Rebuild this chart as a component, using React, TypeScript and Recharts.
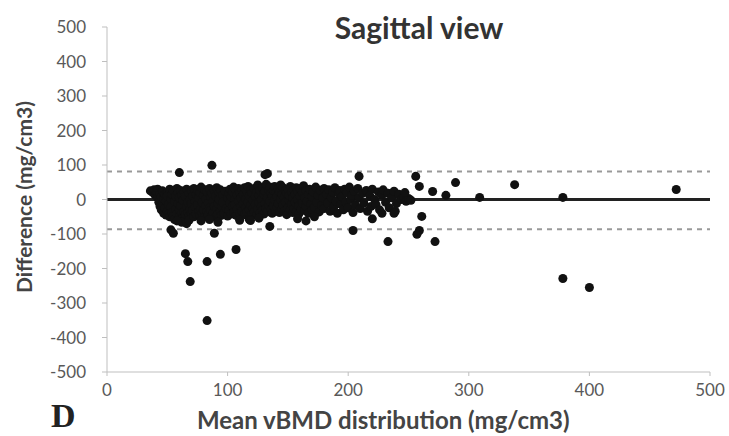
import React from 'react';
import {
  ScatterChart, Scatter, XAxis, YAxis, ZAxis, ReferenceLine
} from 'recharts';

// Bland-Altman data: [mean vBMD, difference]
const cloudLeft: [number, number][] = [
  [36, 25], [38, 20], [39, 28], [40, 12], [41, 22], [42, 5], [42, 30], [43, -8], [44, 18], [44, -20],
  [45, 8], [45, -30], [46, 25], [46, -12], [47, -40], [47, 2], [48, 15], [48, -25], [49, -45], [49, -5],
  [50, 20], [50, -35], [50, 10], [51, -15], [51, -42],
  [52, 30], [52, -50], [53, 0], [53, -22], [54, 15], [54, -38], [55, -48], [55, 25], [56, -5], [56, -58],
  [57, 10], [57, -28], [58, 32], [58, -42], [59, -12], [59, 20], [60, -50], [60, 5], [60, -30], [61, 26],
  [61, -18], [62, -40], [62, 12], [63, -52], [63, -2], [64, 22], [64, -35], [65, -45], [65, 8], [66, -20],
  [66, 30], [67, -8], [67, -38], [68, 18], [68, -48], [69, 0], [69, -28], [70, 25], [70, -42], [70, -12],
  [62, -66], [58, -62], [66, -70], [53, -88], [68, -60]
];

const cloudMid: [number, number][] = [
  [71, 10], [71, -32], [72, -50], [72, 32], [73, -5], [73, -22], [74, 15], [74, -42], [75, 28], [75, -15],
  [76, -35], [76, 5], [77, -46], [77, 20], [78, -25], [78, 36], [79, -8], [79, -40], [80, 12], [80, -30],
  [81, 28], [81, -50], [82, -18], [82, 2], [83, -36], [83, 22], [84, -10], [84, -44], [85, 32], [85, -25],
  [86, 8], [86, -32], [87, -48], [87, 18], [88, -5], [88, -38], [89, 26], [89, -20], [90, -52], [90, 10],
  [91, -28], [91, 34], [92, -12], [92, -42], [93, 20], [93, 0], [94, -34], [94, 28], [95, -20], [95, -46],
  [96, 12], [96, -8], [97, -40], [98, 24], [99, -26], [100, 5], [100, -48], [78, -62], [92, -66], [85, -58],
  [101, 18], [101, -32], [102, -10], [102, 30], [103, -42], [103, 8], [104, -20], [104, 22], [105, 36], [105, -36],
  [106, 0], [106, -15], [107, 26], [107, -46], [108, -28], [108, 12], [109, -5], [109, 32], [110, -40], [110, 20],
  [111, -20], [111, 5], [112, -34], [112, 28], [113, -12], [113, 15], [114, -44], [114, 34], [115, -24], [115, 2],
  [116, 24], [116, -36], [117, -8], [117, 38], [118, 10], [118, -30], [119, -16], [119, 28], [120, -42], [120, 18],
  [121, -2], [121, -26], [122, 32], [122, -36], [123, 8], [123, -14], [124, 22], [124, -46], [125, -28], [125, 42],
  [126, 12], [126, -8], [127, -38], [127, 26], [128, 0], [128, -20], [129, 34], [129, -32], [130, 15], [130, -42],
  [131, -12], [131, 24], [132, 44], [132, -26], [133, 5], [133, -36], [134, 28], [134, -16], [135, -5], [135, 36],
  [136, 18], [136, -30], [137, -40], [137, 10], [138, 26], [138, -18], [139, -2], [139, 38], [140, -34], [140, 20],
  [118, -58], [126, -54], [110, -60]
];

const cloudRight: [number, number][] = [
  [141, 8], [141, -22], [142, 32], [142, -12], [143, -38], [143, 22], [144, 0], [144, 42], [145, -28], [145, 15],
  [146, -16], [146, 34], [147, 5], [147, -34], [148, 26], [148, -8], [149, -44], [149, 18], [150, 30], [150, -24],
  [151, -2], [151, 12], [152, -30], [152, 38], [153, 22], [153, -14], [154, -38], [154, 5], [155, 28], [155, -26],
  [156, 15], [156, -8], [157, -34], [157, 34], [158, 0], [158, 24], [159, -18], [159, -42], [160, 10], [160, 32],
  [161, -28], [162, 20], [162, -10], [163, 40], [164, -32], [164, 5], [165, 26], [165, -20], [166, -5], [167, 15],
  [167, -40], [168, 30], [169, -14], [170, 8], [170, -30], [171, 22], [172, -22], [173, 36], [174, -8], [175, 12],
  [176, -36], [177, 26], [178, -16], [179, 5], [180, 32], [180, -26], [158, -56], [172, -50], [165, -62],
  [182, 15], [183, -10], [184, 28], [185, -34], [186, 5], [187, 22], [188, -22], [189, 34], [190, -5], [191, -40],
  [192, 18], [193, 26], [194, -14], [195, 8], [196, -30], [197, 30], [198, -8], [199, 20], [200, -24], [201, 36],
  [202, 0], [203, 12], [204, -38], [205, 24], [206, -16], [208, 32], [209, 5], [210, -26], [212, 18], [213, -10],
  [215, 26], [216, -34], [218, 10], [219, -20], [220, 30], [222, 0], [223, -14], [225, 22], [226, -30], [228, 12],
  [229, 28], [231, -8], [233, 18], [234, -24], [236, 5], [238, 24], [240, -12], [242, 15], [244, 0], [246, 8],
  [248, -5], [250, 3], [252, -2], [247, 20], [239, -34], [228, -40]
];

const scattered: [number, number][] = [
  [87, 99], [60, 78], [133, 75], [131, 72], [209, 67], [256, 67], [259, 38], [289, 49], [270, 23], [281, 12],
  [309, 6], [338, 43], [378, 6], [472, 29], [55, -98], [89, -98], [65, -157], [67, -180], [69, -238], [83, -351],
  [83, -180], [94, -159], [107, -145], [261, -49], [259, -90], [257, -101], [233, -122], [272, -122], [204, -90],
  [220, -56], [238, -40], [135, -78], [119, -61], [378, -229], [400, -255]
];

const meanDiff = 0;
const upperLimit = 81;
const lowerLimit = -86;

const xTicks = [0, 100, 200, 300, 400, 500];
const yTicks = [-500, -400, -300, -200, -100, 0, 100, 200, 300, 400, 500];

const points = [...cloudLeft, ...cloudMid, ...cloudRight, ...scattered].map(([mean, diff]) => ({ mean, diff }));

const FONT = 'Lato, "Open Sans", sans-serif';
const tickStyle = { fill: '#595959', fontSize: 17, fontFamily: FONT };

export default function App() {
  return (
    <div style={{ position: 'absolute', left: 0, top: 0, width: 729, height: 436, background: '#fff' }}>
      <ScatterChart width={729} height={436} margin={{ top: 27, right: 19, bottom: 34, left: 0 }}>
        <XAxis
          type="number"
          dataKey="mean"
          domain={[0, 500]}
          ticks={xTicks}
          height={30}
          stroke="#bfbfbf"
          tickSize={4}
          tick={tickStyle}
          tickMargin={8}
        />
        <YAxis
          type="number"
          dataKey="diff"
          domain={[-500, 500]}
          ticks={yTicks}
          width={107}
          stroke="#bfbfbf"
          tickSize={5}
          tick={tickStyle}
          tickMargin={16}
        />
        <ZAxis range={[38, 38]} />
        <ReferenceLine y={upperLimit} stroke="#999" strokeWidth={2} strokeDasharray="5 5" />
        <ReferenceLine y={lowerLimit} stroke="#999" strokeWidth={2} strokeDasharray="5 5" />
        <ReferenceLine y={meanDiff} stroke="#222" strokeWidth={3} />
        <Scatter data={points} fill="#111" isAnimationActive={false} />
      </ScatterChart>
      <div style={{
        position: 'absolute', left: 269, top: 9, width: 300, textAlign: 'center',
        fontFamily: FONT, fontWeight: 700, fontSize: 30, color: '#333', lineHeight: '36px'
      }}>
        Sagittal view
      </div>
      <div style={{
        position: 'absolute', left: 24, top: 197, width: 0, height: 0
      }}>
        <div style={{
          position: 'absolute', left: -170, top: -13, width: 340, textAlign: 'center',
          transform: 'rotate(-90deg)', fontFamily: FONT, fontWeight: 700, fontSize: 21, color: '#444', lineHeight: '26px'
        }}>
          Difference (mg/cm3)
        </div>
      </div>
      <div style={{
        position: 'absolute', left: 197, top: 405, fontFamily: FONT, fontWeight: 700,
        fontSize: 24, color: '#444', lineHeight: '29px', whiteSpace: 'nowrap'
      }}>
        Mean vBMD distribution (mg/cm3)
      </div>
      <div style={{
        position: 'absolute', left: 51, top: 396, fontFamily: '"Liberation Serif", serif',
        fontWeight: 700, fontSize: 34, color: '#222', lineHeight: '40px'
      }}>
        D
      </div>
    </div>
  );
}
